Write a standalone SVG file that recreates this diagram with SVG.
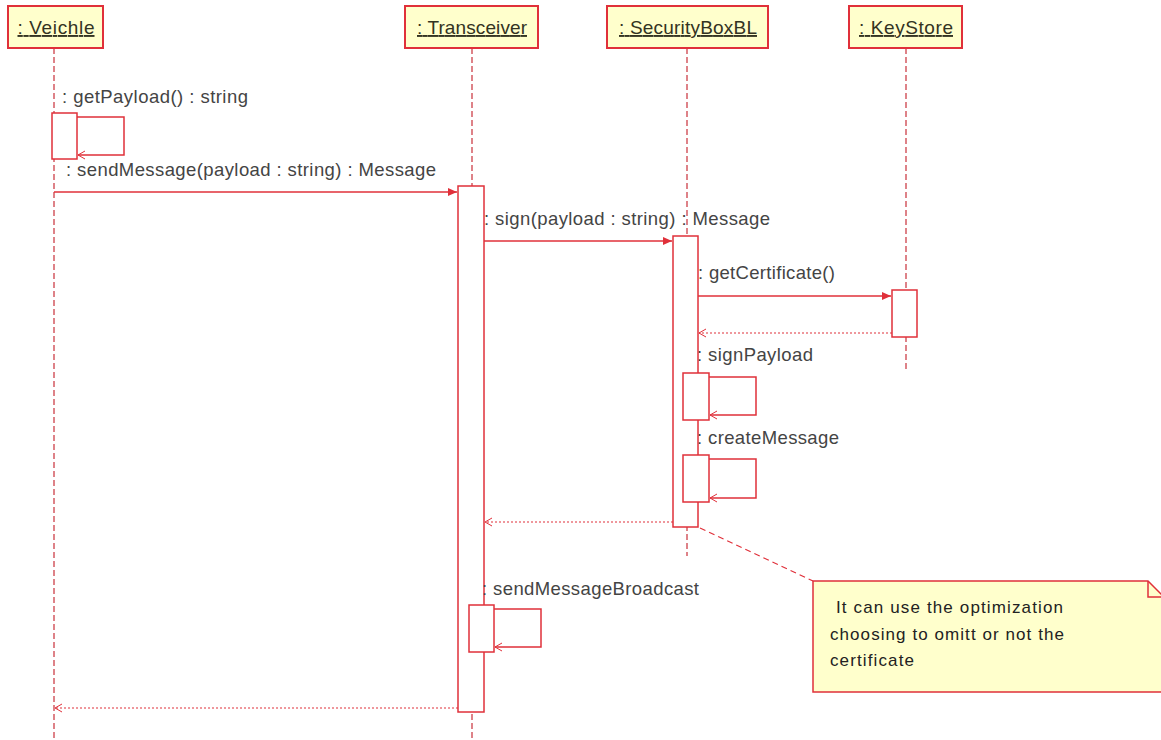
<svg xmlns="http://www.w3.org/2000/svg" width="1161" height="740" viewBox="0 0 1161 740">
<defs>
<marker id="filled" markerWidth="10" markerHeight="10" refX="9" refY="5" orient="auto" markerUnits="userSpaceOnUse">
<path d="M0,1 L9,5 L0,9 Z" fill="#e0303a"/>
</marker>
<marker id="openEnd" markerWidth="10" markerHeight="10" refX="9" refY="5" orient="auto" markerUnits="userSpaceOnUse">
<path d="M2,1 L9,5 L2,9" fill="none" stroke="#e0303a" stroke-width="1"/>
</marker>
</defs>
<style>
.head{fill:#ffffcc;stroke:#e0303a;stroke-width:2}
.htxt{font-family:"Liberation Sans",Arial,sans-serif;font-size:19px;fill:#333322;text-decoration:underline}
.life{stroke:#c8303a;stroke-width:1.2;stroke-dasharray:6,3;fill:none}
.act{fill:#ffffff;stroke:#e0303a;stroke-width:1.5}
.msg{stroke:#e0303a;stroke-width:1.5;fill:none}
.ret{stroke:#e0303a;stroke-width:1.2;stroke-dasharray:2,2;fill:none}
.lbl{font-family:"Liberation Sans",Arial,sans-serif;font-size:18.5px;fill:#444444}
.note{fill:#ffffcc;stroke:#e0303a;stroke-width:1.5}
.ntxt{font-family:"Liberation Sans",Arial,sans-serif;font-size:17px;fill:#222222}
</style>
<rect width="1161" height="740" fill="#ffffff"/>

<g id="lifelines">
<line class="life" x1="54" y1="48" x2="54" y2="740"/>
<line class="life" x1="472" y1="48" x2="472" y2="740"/>
<line class="life" x1="687" y1="48" x2="687" y2="556"/>
<line class="life" x1="906" y1="48" x2="906" y2="370"/>
</g>

<g id="veichle">
<rect class="head" x="8" y="6" width="95" height="42"/>
<text class="htxt" x="56" y="34" text-anchor="middle" textLength="77">: Veichle</text>
</g>
<g id="transceiver">
<rect class="head" x="405" y="6" width="133" height="42"/>
<text class="htxt" x="472" y="34" text-anchor="middle" textLength="110">: Transceiver</text>
</g>
<g id="securityboxbl">
<rect class="head" x="607" y="6" width="161" height="42"/>
<text class="htxt" x="688" y="34" text-anchor="middle" textLength="138">: SecurityBoxBL</text>
</g>
<g id="keystore">
<rect class="head" x="849" y="6" width="113" height="42"/>
<text class="htxt" x="906" y="34" text-anchor="middle" textLength="94">: KeyStore</text>
</g>

<g id="activations">
<rect class="act" x="52" y="113" width="25" height="46"/>
<rect class="act" x="458" y="186" width="26" height="526"/>
<rect class="act" x="673" y="236" width="25" height="291"/>
<rect class="act" x="892" y="290" width="25" height="47"/>
<rect class="act" x="683" y="373" width="26" height="47"/>
<rect class="act" x="683" y="455" width="26" height="47"/>
<rect class="act" x="469" y="605" width="25" height="47"/>
</g>

<g id="connectors">
<polyline class="msg" points="77,117 124,117 124,155 78,155" marker-end="url(#openEnd)"/>
<line class="msg" x1="54" y1="192" x2="457" y2="192" marker-end="url(#filled)"/>
<line class="msg" x1="484" y1="241" x2="672" y2="241" marker-end="url(#filled)"/>
<line class="msg" x1="698" y1="296" x2="891" y2="296" marker-end="url(#filled)"/>
<line class="ret" x1="892" y1="333" x2="699" y2="333" marker-end="url(#openEnd)"/>
<polyline class="msg" points="709,377 756,377 756,415 710,415" marker-end="url(#openEnd)"/>
<polyline class="msg" points="709,459 756,459 756,498 710,498" marker-end="url(#openEnd)"/>
<line class="ret" x1="673" y1="522" x2="485" y2="522" marker-end="url(#openEnd)"/>
<polyline class="msg" points="494,609 541,609 541,647 495,647" marker-end="url(#openEnd)"/>
<line class="ret" x1="458" y1="708" x2="55" y2="708" marker-end="url(#openEnd)"/>
<line x1="700" y1="528" x2="813" y2="581" stroke="#e0303a" stroke-width="1.2" stroke-dasharray="6,4"/>
</g>

<g id="labels">
<text class="lbl" x="62" y="103" textLength="186">: getPayload() : string</text>
<text class="lbl" x="66" y="176" textLength="370">: sendMessage(payload : string) : Message</text>
<text class="lbl" x="484" y="225" textLength="286">: sign(payload : string) : Message</text>
<text class="lbl" x="698" y="279" textLength="137">: getCertificate()</text>
<text class="lbl" x="697" y="361" textLength="116">: signPayload</text>
<text class="lbl" x="697" y="444" textLength="142">: createMessage</text>
<text class="lbl" x="482" y="595" textLength="217">: sendMessageBroadcast</text>
</g>

<g id="note">
<path class="note" d="M813,581 L1148,581 L1164,597 L1164,692 L813,692 Z"/>
<path d="M1148,581 L1148,597 L1164,597" fill="none" stroke="#e0303a" stroke-width="1.5"/>
<text class="ntxt" x="836" y="613" textLength="227">It can use the optimization</text>
<text class="ntxt" x="830" y="640" textLength="234">choosing to omitt or not the</text>
<text class="ntxt" x="830" y="666" textLength="84">certificate</text>
</g>
</svg>
